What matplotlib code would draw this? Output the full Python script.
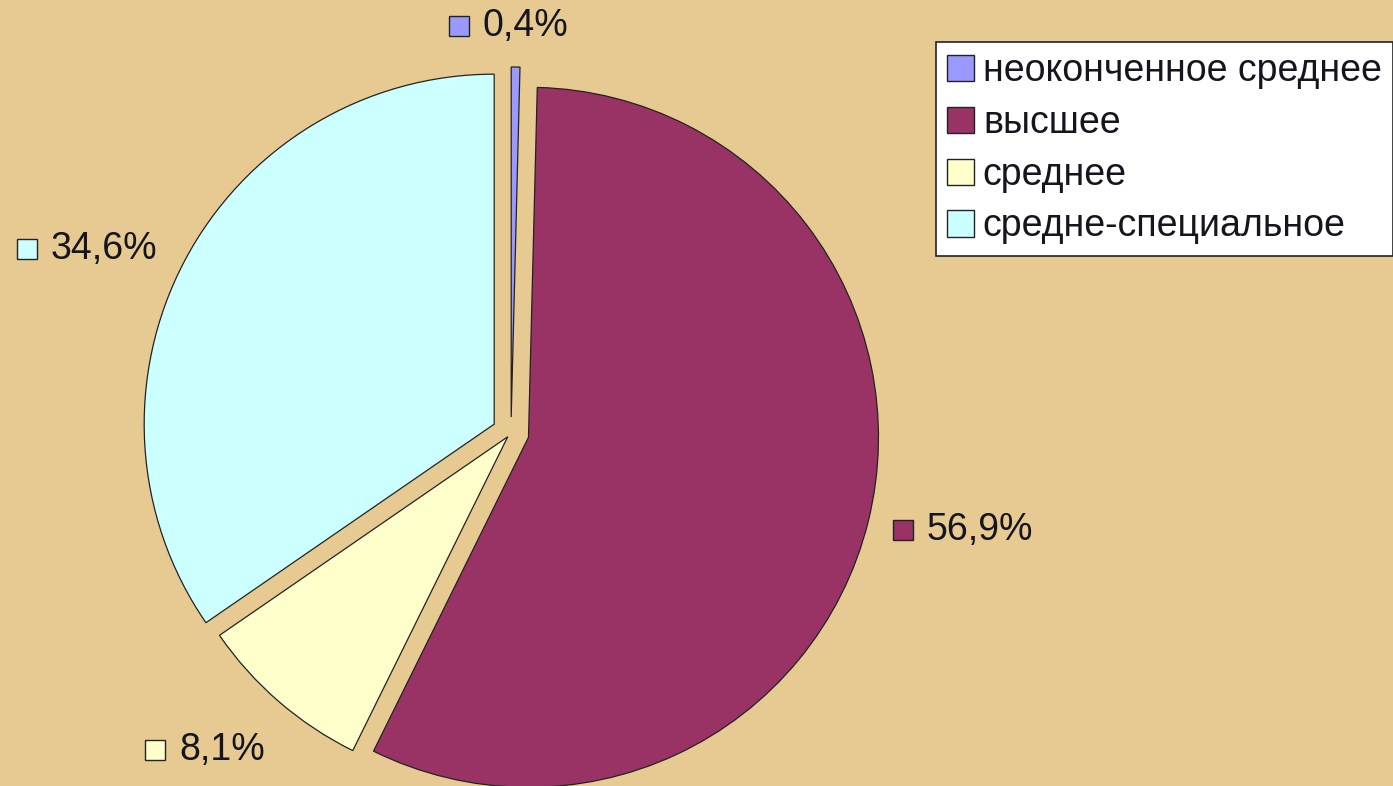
import matplotlib.pyplot as plt
from matplotlib.patches import Patch

plt.rcParams['font.family'] = ['Liberation Sans', 'DejaVu Sans']

categories = ['неоконченное среднее', 'высшее', 'среднее', 'средне-специальное']
values = [0.4, 56.9, 8.1, 34.6]
value_labels = ['0,4%', '56,9%', '8,1%', '34,6%']
colors = ['#9999FF', '#993366', '#FFFFCC', '#CCFFFF']

W, H = 1393, 786
fig = plt.figure(figsize=(W / 100, H / 100), dpi=100)
fig.patch.set_facecolor('#E7CA92')
ax = fig.add_axes([0, 0, 1, 1])
ax.set_xlim(0, W)
ax.set_ylim(0, H)
ax.set_aspect('equal')
ax.axis('off')

R = 350
# explode is in data units here (pixels)
ax.pie(values, colors=colors, startangle=90, counterclock=False,
       center=(511, H - 433), radius=R, explode=[16, 18, 5, 19],
       wedgeprops=dict(edgecolor='#222222', linewidth=0.9))
ax.set_xlim(0, W)
ax.set_ylim(0, H)

# data label anchors (left edge of key square, text middle), pixels from top
label_pos = [(449, 26), (893, 530), (145, 750), (17, 249)]
for (x, y), txt, c in zip(label_pos, value_labels, colors):
    ax.add_patch(plt.Rectangle((x, H - y - 10), 20, 20, facecolor=c,
                               edgecolor='#222222', linewidth=1))
    ax.text(x + 34, H - y, txt, fontsize=27, va='center', ha='left', color='#15151f')

handles = [Patch(facecolor=c, edgecolor='#222222', linewidth=1) for c in colors]
leg = fig.legend(handles, categories, loc='upper left',
                 bbox_to_anchor=(936 / W, 1 - 42 / H), fontsize=27,
                 frameon=True, fancybox=False, framealpha=1, edgecolor='#222222',
                 handlelength=0.7, handleheight=0.7, handletextpad=0.25,
                 labelspacing=0.42, borderpad=0.3, borderaxespad=0)
leg.get_frame().set_linewidth(1.2)
for t in leg.get_texts():
    t.set_color('#15151f')

fig.savefig('out.png', dpi=100, facecolor=fig.get_facecolor())
